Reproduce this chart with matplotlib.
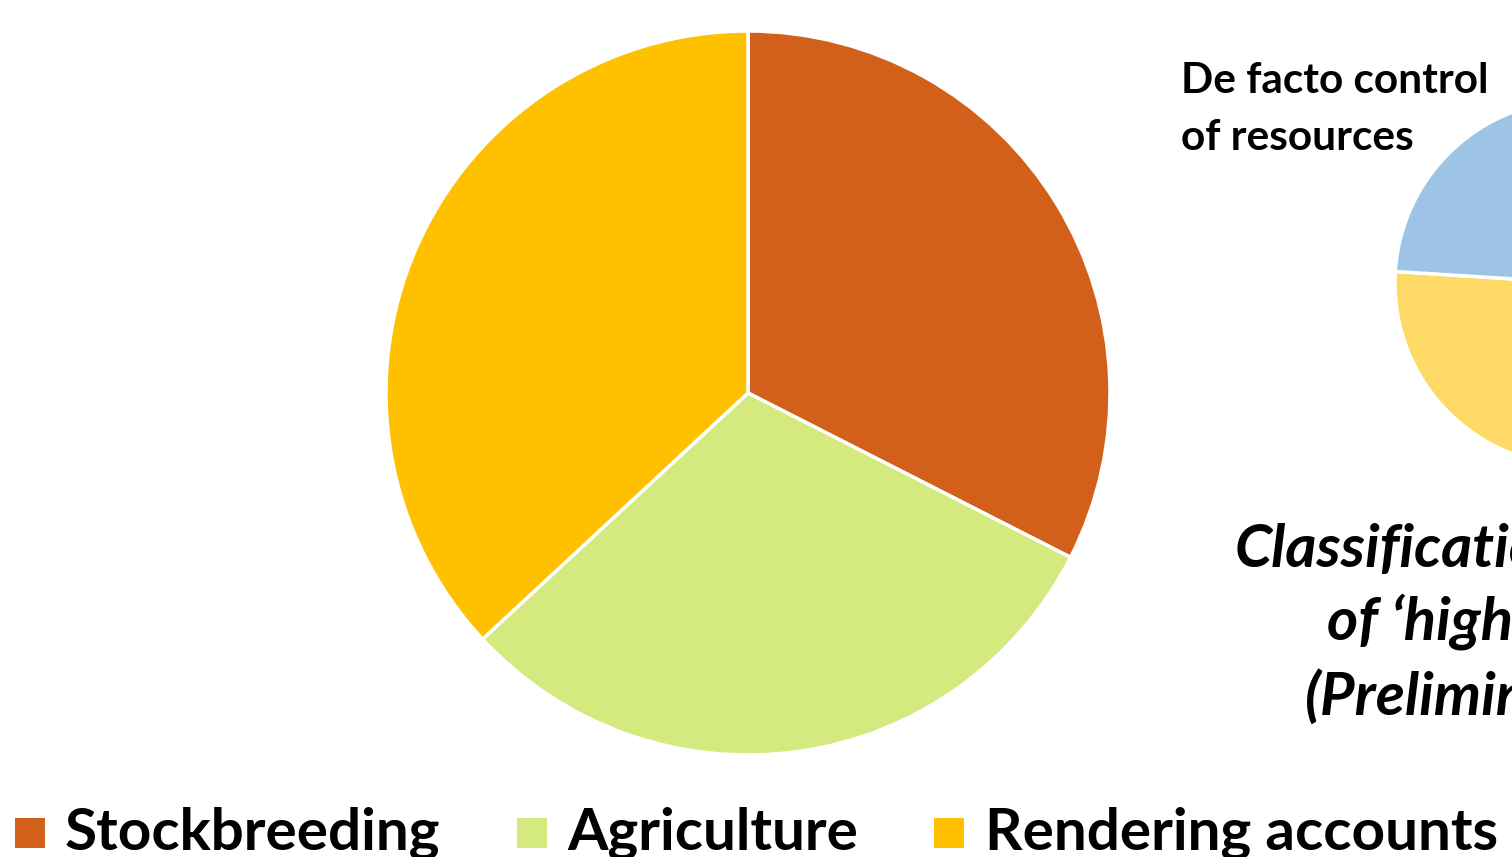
import matplotlib.pyplot as plt

plt.rcParams['font.family'] = ['Lato', 'DejaVu Sans']

# main pie
labels = ['Stockbreeding', 'Agriculture', 'Rendering accounts']
values = [32.5, 30.6, 36.9]
colors = ['#D2601A', '#D4E97E', '#FFC000']

# second pie (only partly visible at the right edge)
values2 = [30, 22, 24, 24]
colors2 = ['#F4B183', '#C9C9C9', '#FFD966', '#9DC3E6']

title2 = ['De facto control', 'of resources']
caption = ['Classification', 'of \u2018high', '(Preliminary']

W, H = 1512, 857
fig = plt.figure(figsize=(W / 100, H / 100), dpi=100)
ax = fig.add_axes([0, 0, 1, 1])

wp = dict(edgecolor='white', linewidth=2.5)
ax.pie(values, colors=colors, startangle=90, counterclock=False,
       center=(748, 464), radius=362, wedgeprops=wp)
ax.pie(values2, colors=colors2, startangle=90, counterclock=False,
       center=(1578, 574), radius=183, wedgeprops=wp)

ax.set_xlim(0, W)
ax.set_ylim(0, H)
ax.set_aspect('equal')
ax.axis('off')

for txt, ty in zip(title2, [764, 707]):
    ax.text(1181, ty, txt, fontsize=30.5, fontweight='bold',
            va='baseline', ha='left')

# caption of the second chart, cut by the right edge as in the original
cap_x = [1235, 1327, 1305]
cap_y = [290, 217, 142]
for txt, cx, cy in zip(caption, cap_x, cap_y):
    ax.text(cx, cy, txt, fontsize=43, fontweight='bold',
            style='italic', va='baseline', ha='left')

# legend row along the bottom
sq_x = [15, 517, 934]
txt_x = [65, 567, 985]
for lab, col, sx, tx in zip(labels, colors, sq_x, txt_x):
    ax.add_patch(plt.Rectangle((sx, 9), 30, 30, facecolor=col, edgecolor='none'))
    ax.text(tx, 7, lab, fontsize=42, fontweight='bold', va='baseline', ha='left')

fig.savefig('out.png', dpi=100)
